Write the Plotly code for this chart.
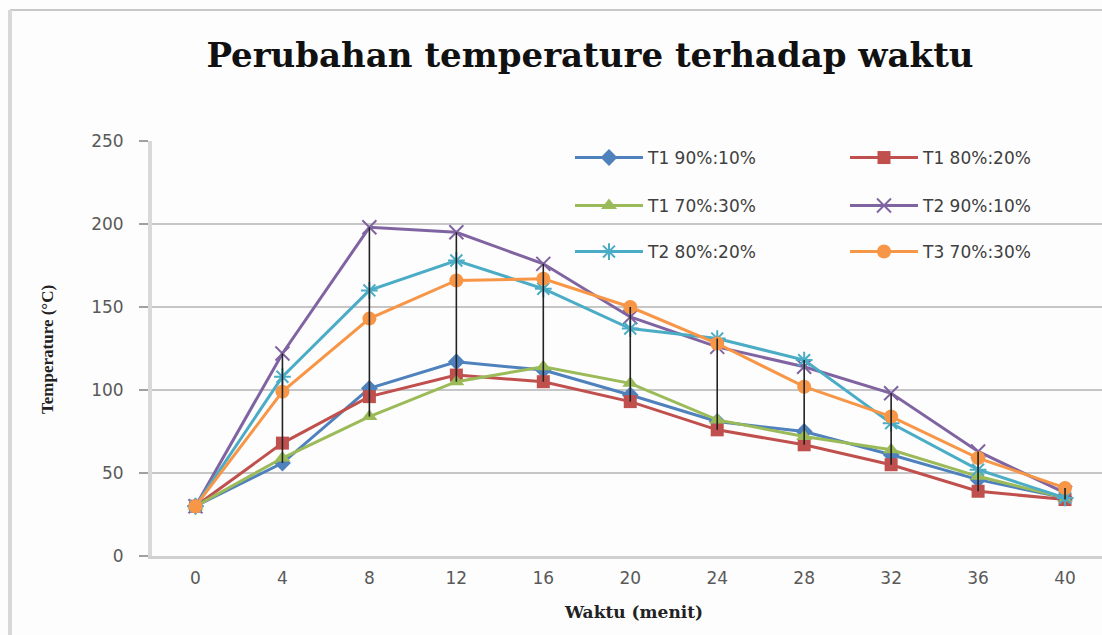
import numpy as np
import plotly.graph_objects as go

waktu = [0, 4, 8, 12, 16, 20, 24, 28, 32, 36, 40]

t1_90 = [30, 56, 101, 117, 112, 97, 81, 75, 61, 46, 35]
t1_80 = [30, 68, 96, 109, 105, 93, 76, 67, 55, 39, 34]
t1_70 = [30, 59, 84, 105, 114, 104, 82, 72, 64, 48, 35]
t2_90 = [30, 122, 198, 195, 176, 144, 126, 114, 98, 63, 38]
t2_80 = [30, 108, 160, 178, 161, 137, 131, 118, 80, 52, 35]
t3_70 = [30, 99, 143, 166, 167, 150, 128, 102, 84, 59, 41]

y_ticks = [0, 50, 100, 150, 200, 250]

W, H = 1102, 635
L, R, T, B = 152, 0, 141, 79
pw = W - L - R
ph = H - T - B


def px_x(px):
    return (px - L) / pw


def px_y(py):
    return (H - B - py) / ph


# legend slot: (column x px, row y px)
series = [
    ("T1 90%:10%", t1_90, "#4F81BD", "diamond", 13, 0, (570, 158)),
    ("T1 80%:20%", t1_80, "#C0504D", "square", 13, 0, (845, 158)),
    ("T1 70%:30%", t1_70, "#9BBB59", "triangle-up", 14, 0, (570, 206)),
    ("T2 90%:10%", t2_90, "#8064A2", "x-thin", 14, 2, (845, 206)),
    ("T2 80%:20%", t2_80, "#4BACC6", "asterisk", 14, 2, (570, 252)),
    ("T3 70%:30%", t3_70, "#F79646", "circle", 14, 0, (845, 252)),
]

legfont = dict(family="DejaVu Sans", size=17, color="#404040")
tickfont = dict(family="DejaVu Sans", size=17, color="#595959")

fig = go.Figure()
legends = {}
for i, (name, vals, col, sym, size, lw, pos) in enumerate(series):
    key = "legend" if i == 0 else f"legend{i + 1}"
    marker = dict(symbol=sym, size=size, color=col)
    if lw:
        marker["line"] = dict(color=col, width=lw)
    fig.add_trace(go.Scatter(
        x=waktu, y=vals, name=name, mode="lines+markers",
        line=dict(color=col, width=3), marker=marker, legend=key,
    ))
    legends[key] = dict(bgcolor="rgba(0,0,0,0)", font=legfont, itemwidth=68,
                        xanchor="left", yanchor="middle",
                        x=px_x(pos[0]), y=px_y(pos[1]))

# high-low lines (from max to min of all series at each time)
allv = np.array([s[1] for s in series])
hi = allv.max(axis=0)
lo = allv.min(axis=0)
hx, hy = [], []
for xv, h, l in zip(waktu, hi, lo):
    hx += [xv, xv, None]
    hy += [h, l, None]
fig.add_trace(go.Scatter(x=hx, y=hy, mode="lines", line=dict(color="#222222", width=1.6),
                         showlegend=False, hoverinfo="skip"))

fig.update_layout(
    width=W, height=H,
    margin=dict(l=L, r=R, t=T, b=B),
    paper_bgcolor="#fdfdfd", plot_bgcolor="#fdfdfd",
    title=dict(text="<b>Perubahan temperature terhadap waktu</b>",
               font=dict(family="DejaVu Serif", size=34, color="#111111"),
               x=590 / W, xanchor="center", y=1 - 55 / H, yanchor="middle"),
    xaxis=dict(range=[-2, 41.7], tickmode="array", tickvals=waktu,
               ticktext=[str(w) for w in waktu], showgrid=False, zeroline=False,
               showline=True, linecolor="#d0d0d0", linewidth=3, ticks="",
               tickfont=tickfont, ticklabelstandoff=5),
    yaxis=dict(range=[0, 250], tickmode="array", tickvals=y_ticks,
               showgrid=True, gridcolor="#c6c6c6", gridwidth=1.5, zeroline=False,
               showline=True, linecolor="#d9d9d9", linewidth=4,
               ticks="outside", ticklen=9, tickcolor="#a0a0a0", tickwidth=1.5,
               tickfont=tickfont, ticklabelstandoff=12),
    showlegend=True,
    annotations=[
        dict(text="<b>Waktu (menit)</b>", xref="paper", yref="paper",
             x=px_x(633), y=px_y(612), xanchor="center", yanchor="middle",
             showarrow=False, font=dict(family="DejaVu Serif", size=17, color="#222222")),
        dict(text="<b>Temperature (°C)</b>", xref="paper", yref="paper",
             x=px_x(47), y=px_y(350), xanchor="center", yanchor="middle", textangle=-90,
             showarrow=False, font=dict(family="Liberation Serif", size=17, color="#222222")),
    ],
    shapes=[
        dict(type="line", xref="paper", yref="paper", x0=px_x(10), x1=px_x(1102),
             y0=px_y(10), y1=px_y(10), line=dict(color="#c8c8c8", width=2)),
        dict(type="line", xref="paper", yref="paper", x0=px_x(10), x1=px_x(10),
             y0=px_y(10), y1=px_y(635), line=dict(color="#d8d8d8", width=4)),
    ],
)
fig.update_layout(**legends)

fig.write_html(
    "out.html",
    config={"displayModeBar": False},
    post_script="document.body.style.margin='0';document.body.style.overflow='hidden';",
)
